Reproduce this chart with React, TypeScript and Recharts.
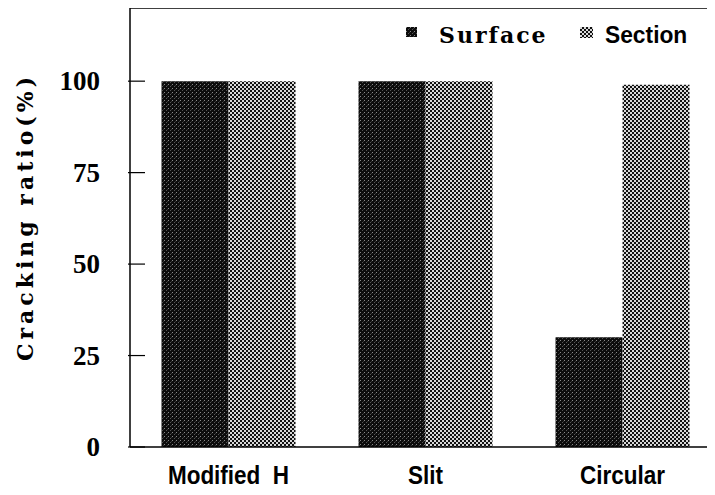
import { BarChart, Bar, XAxis, YAxis, Legend, ReferenceLine } from "recharts"

// Crack shapes on the x axis
const shapes = ["Modified\u00A0\u00A0H", "Slit", "Circular"]

// Cracking ratio (%) per crack location
const surface = [100, 100, 30]
const section = [100, 100, 99]

const yTicks = [0, 25, 50, 75, 100]

const data = shapes.map((name, i) => ({
  name,
  surface: surface[i],
  section: section[i],
}))

const serif = "'Liberation Serif', 'Times New Roman', serif"
const wideSerif = "'DejaVu Serif', serif"
const sans = "'Liberation Sans', Arial, sans-serif"

function YTick({ x, y, payload }: any) {
  return (
    <g>
      <line x1={x} y1={y} x2={x + 17} y2={y} stroke="#000" strokeWidth={1.2} />
      <text x={x - 28} y={y + 9} textAnchor="end" fontFamily={serif} fontWeight="bold" fontSize={27} fill="#000">
        {payload.value}
      </text>
    </g>
  )
}

function XTick({ x, y, payload }: any) {
  // narrow bold sans, squeezed horizontally
  return (
    <text
      transform={`translate(${x} ${y + 35}) scale(0.9 1)`}
      textAnchor="middle"
      fontFamily={sans}
      fontWeight="bold"
      fontSize={25}
      fill="#000"
    >
      {payload.value}
    </text>
  )
}

function LegendBox() {
  return (
    <svg width={300} height={30} style={{ overflow: "visible" }}>
      <rect x={0} y={0} width={11} height={10} fill="url(#surfaceFill)" />
      <text x={33} y={16} fontFamily={wideSerif} fontWeight="bold" fontSize={22} letterSpacing={2} fill="#000">
        Surface
      </text>
      <rect x={174} y={0} width={13} height={11} fill="url(#sectionFill)" />
      <text
        transform="translate(199 16) scale(0.95 1)"
        fontFamily={sans}
        fontWeight="bold"
        fontSize={24}
        fill="#000"
      >
        Section
      </text>
    </svg>
  )
}

export default function App() {
  return (
    <div style={{ width: 706, height: 487, overflow: "hidden" }}>
      <BarChart
        width={713}
        height={487}
        data={data}
        margin={{ top: 0, right: 0, bottom: 8, left: 0 }}
        barCategoryGap="16%"
        barGap={0}
      >
        <defs>
          <pattern id="surfaceFill" width={4} height={4} patternUnits="userSpaceOnUse">
            <rect width={4} height={4} fill="#0c0c0c" />
            <rect x={0} y={0} width={1} height={1} fill="#8a8a8a" />
            <rect x={2} y={2} width={1} height={1} fill="#555" />
            <rect x={3} y={1} width={1} height={1} fill="#333" />
          </pattern>
          <pattern id="sectionFill" width={4} height={4} patternUnits="userSpaceOnUse">
            <rect width={4} height={4} fill="#d8d8d8" />
            <rect x={0} y={0} width={2} height={2} fill="#111" />
            <rect x={2} y={2} width={2} height={2} fill="#111" />
          </pattern>
        </defs>
        <XAxis
          dataKey="name"
          height={40}
          tickLine={false}
          tickSize={0}
          tick={<XTick />}
          axisLine={{ stroke: "#000", strokeWidth: 1.5 }}
          interval={0}
        />
        <YAxis
          width={122}
          domain={[0, 120]}
          ticks={yTicks}
          tickLine={false}
          tickSize={0}
          tick={<YTick />}
          axisLine={{ stroke: "#000", strokeWidth: 1.5 }}
          label={{
            content: () => (
              <text
                x={25}
                y={209}
                transform="rotate(-90 25 209)"
                textAnchor="middle"
                fontFamily={wideSerif}
                fontWeight="bold"
                fontSize={22}
                letterSpacing={4}
                fill="#000"
              >
                Cracking ratio(%)
              </text>
            ),
          }}
        />
        <ReferenceLine y={120} stroke="#000" strokeWidth={1.5} />
        <Legend
          verticalAlign="top"
          content={() => <LegendBox />}
          wrapperStyle={{ position: "absolute", top: 19, left: 398, width: 0, height: 0, overflow: "visible" }}
        />
        <Bar dataKey="surface" name="Surface" fill="url(#surfaceFill)" isAnimationActive={false} />
        <Bar dataKey="section" name="Section" fill="url(#sectionFill)" isAnimationActive={false} />
      </BarChart>
    </div>
  )
}
